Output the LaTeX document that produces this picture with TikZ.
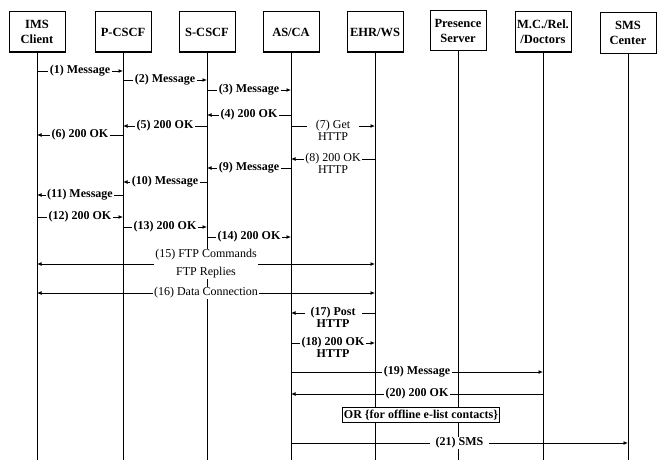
\documentclass[tikz,border=0pt]{standalone}
\usepackage{fontspec}
\setmainfont{Liberation Serif}
\usetikzlibrary{arrows.meta}
\begin{document}
\begin{tikzpicture}[x=1pt,y=-1pt,
  ent/.style={draw, line width=1pt, minimum width=56pt, minimum height=40pt, inner sep=1pt,
    align=center, font=\fontsize{12.5}{15}\bfseries\selectfont},
  life/.style={line width=1pt},
  msg/.style={line width=1pt, -{Latex[length=4.5pt,width=4pt]}},
  dmsg/.style={line width=1pt, {Latex[length=4.5pt,width=4pt]}-{Latex[length=4.5pt,width=4pt]}},
  lbl/.style={fill=white, inner xsep=1.5pt, inner ysep=0.5pt, font=\fontsize{12}{13}\bfseries\selectfont},
  lblr/.style={fill=white, inner xsep=1.5pt, inner ysep=0.5pt, font=\fontsize{12}{13}\selectfont},
  sub/.style={fill=white, inner sep=0pt, font=\fontsize{12}{13}\bfseries\selectfont},
  subr/.style={fill=white, inner sep=0pt, font=\fontsize{12}{13}\selectfont},
  orbox/.style={draw, fill=white, line width=1pt, inner xsep=1.5pt, inner ysep=2pt, font=\fontsize{12}{13}\bfseries\selectfont}
]
\useasboundingbox (0,0) rectangle (660,460);

% entities
\node[ent] (ims)   at (37,32)  {IMS\\Client};
\node[ent] (pcscf) at (123,32) {P-CSCF};
\node[ent] (scscf) at (207,32) {S-CSCF};
\node[ent] (asca)  at (291,32) {AS/CA};
\node[ent] (ehr)   at (375,32) {EHR/WS};
\node[ent] (pres)  at (458,31) {Presence\\Server};
\node[ent] (mc)    at (543,32) {M.C./Rel.\\/Doctors};
\node[ent] (sms)   at (628,33) {SMS\\Center};

% lifelines
\foreach \n in {ims,pcscf,scscf,asca,ehr,pres,mc,sms}
  \draw[life] (\n.south) -- (\n.south |- 0,460);

% messages
\draw[msg] (ims |- 0,71)   -- node[lbl] {(1) Message} (pcscf |- 0,71);
\draw[msg] (pcscf |- 0,80) -- node[lbl] {(2) Message} (scscf |- 0,80);
\draw[msg] (scscf |- 0,90) -- node[lbl] {(3) Message} (asca |- 0,90);
\draw[msg] (asca |- 0,115) -- node[lbl] {(4) 200 OK} (scscf |- 0,115);
\draw[msg] (scscf |- 0,126) -- node[lbl] {(5) 200 OK} (pcscf |- 0,126);
\draw[msg] (pcscf |- 0,135) -- node[lbl] {(6) 200 OK} (ims |- 0,135);
\draw[msg] (asca |- 0,126) -- node[lblr, inner xsep=9pt, label={[subr]below:HTTP}] {(7) Get} (ehr |- 0,126);
\draw[msg] (ehr |- 0,159) -- node[lblr, label={[subr]below:HTTP}] {(8) 200 OK} (asca |- 0,159);
\draw[msg] (asca |- 0,168) -- node[lbl] {(9) Message} (scscf |- 0,168);
\draw[msg] (scscf |- 0,182) -- node[lbl] {(10) Message} (pcscf |- 0,182);
\draw[msg] (pcscf |- 0,195) -- node[lbl] {(11) Message} (ims |- 0,195);
\draw[msg] (ims |- 0,217) -- node[lbl] {(12) 200 OK} (pcscf |- 0,217);
\draw[msg] (pcscf |- 0,227) -- node[lbl] {(13) 200 OK} (scscf |- 0,227);
\draw[msg] (scscf |- 0,237) -- node[lbl] {(14) 200 OK} (asca |- 0,237);
\draw[dmsg] (ims |- 0,264) -- node[lblr, align=center, font=\fontsize{12}{18}\selectfont] {(15) FTP Commands\\FTP Replies} (ehr |- 0,264);
\draw[dmsg] (ims |- 0,293) -- node[lblr] {(16) Data Connection} (ehr |- 0,293);
\draw[msg] (ehr |- 0,313) -- node[lbl, inner xsep=6pt, label={[sub]below:HTTP}] {(17) Post} (asca |- 0,313);
\draw[msg] (asca |- 0,343) -- node[lbl, label={[sub]below:HTTP}] {(18) 200 OK} (ehr |- 0,343);
\draw[msg] (asca |- 0,372) -- node[lbl] {(19) Message} (mc |- 0,372);
\draw[msg] (mc |- 0,394) -- node[lbl] {(20) 200 OK} (asca |- 0,394);
\node[orbox] (or) at (421,415) {OR \{for offline e-list contacts\}};
\draw[msg] (asca |- 0,443) -- node[lbl, inner xsep=6pt] {(21) SMS} (sms |- 0,443);
\end{tikzpicture}
\end{document}
